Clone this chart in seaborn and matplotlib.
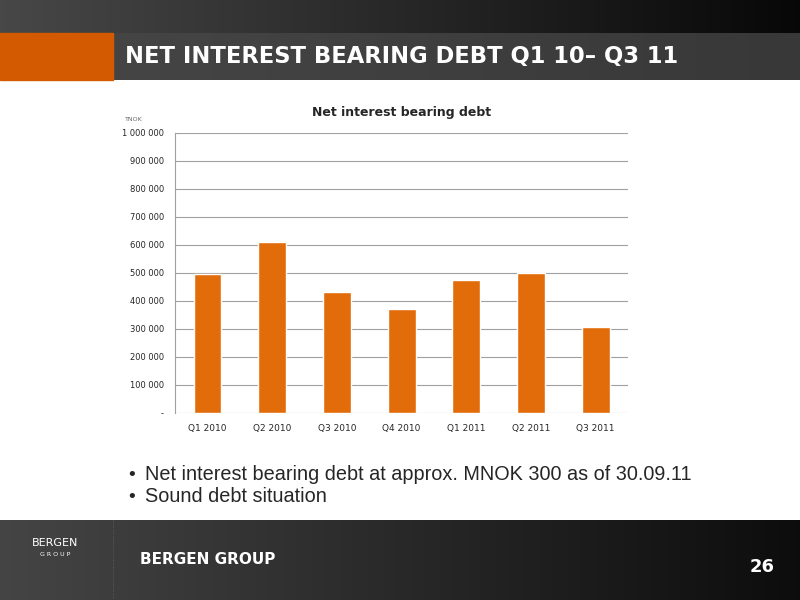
import numpy as np
import pandas as pd
import matplotlib
matplotlib.use("Agg")
import matplotlib.pyplot as plt
import seaborn as sns
from matplotlib.patches import Rectangle

# Данные
quarters = ["Q1 2010", "Q2 2010", "Q3 2010", "Q4 2010", "Q1 2011", "Q2 2011", "Q3 2011"]
debt = [495000, 610000, 430000, 372000, 475000, 498000, 305000]
y_ticks = [0, 100000, 200000, 300000, 400000, 500000, 600000, 700000, 800000, 900000, 1000000]
y_labels = ["-"] + [f"{v:,}".replace(",", " ") for v in y_ticks[1:]]
bullets = ["Net interest bearing debt at approx. MNOK 300 as of 30.09.11",
           "Sound debt situation"]

df = pd.DataFrame({"quarter": quarters, "debt": debt})

sns.set_style("white")
plt.rcParams['font.family'] = ['DejaVu Sans']

fig = plt.figure(figsize=(8, 6), dpi=100)
fig.patch.set_facecolor("white")

# фон шапки и подвала (градиент)
bg = fig.add_axes([0, 0, 1, 1], zorder=0)
bg.axis("off")
grad = np.linspace(0.28, 0.03, 256).reshape(1, -1)
bg.imshow(np.dstack([grad] * 3), extent=[0, 800, 80, 0], aspect="auto")
grad2 = np.linspace(0.27, 0.22, 256).reshape(1, -1)
bg.imshow(np.dstack([grad2] * 3), extent=[113, 800, 80, 33], aspect="auto")
bg.add_patch(Rectangle((0, 33), 113, 47, color="#d35a00"))
grad3 = np.linspace(0.27, 0.05, 256).reshape(1, -1)
bg.imshow(np.dstack([grad3] * 3), extent=[0, 800, 600, 520], aspect="auto")
bg.plot([113, 113], [520, 600], color="#666666", lw=0.6, ls=":")
bg.set_xlim(0, 800)
bg.set_ylim(600, 0)
bg.text(125, 57, "NET INTEREST BEARING DEBT Q1 10\u2013 Q3 11", color="white",
        fontsize=16.3, fontweight="bold", va="center")
bg.text(140, 560, "BERGEN GROUP", color="white", fontsize=11, fontweight="bold", va="center")
bg.text(775, 567, "26", color="white", fontsize=13, fontweight="bold", va="center", ha="right")
bg.text(55, 543, "BERGEN", color="white", fontsize=8, ha="center", va="center")
bg.text(55, 555, "G R O U P", color="white", fontsize=4.5, ha="center", va="center")
for i, t in enumerate(bullets):
    bg.text(128, 475 + i * 22, "\u2022", fontsize=14, va="center", family="Liberation Sans")
    bg.text(145, 475 + i * 22, t, fontsize=14.3, va="center", family="Liberation Sans")

# график
ax = fig.add_axes([0.219, 0.312, 0.566, 0.467], zorder=1)
sns.barplot(data=df, x="quarter", y="debt", color="#e36c0a", saturation=1, width=0.43, ax=ax, zorder=3)
ax.set_ylim(0, 1000000)
ax.set_yticks(y_ticks)
ax.set_yticklabels(y_labels, fontsize=6)
ax.tick_params(axis="x", labelsize=6.5, length=0, pad=8)
ax.tick_params(axis="y", length=0, pad=8)
ax.yaxis.grid(True, color="#a0a0a0", lw=0.8, zorder=0)
ax.set_axisbelow(True)
for s in ["top", "right", "bottom"]:
    ax.spines[s].set_visible(False)
ax.spines["left"].set_color("#a0a0a0")
ax.set_xlabel("")
ax.set_ylabel("")
ax.set_title("Net interest bearing debt", fontsize=9, fontweight="bold", pad=12)
ax.text(-0.11, 1.04, "TNOK", transform=ax.transAxes, fontsize=4.5, color="#666666")

fig.savefig("out.png", dpi=100)
